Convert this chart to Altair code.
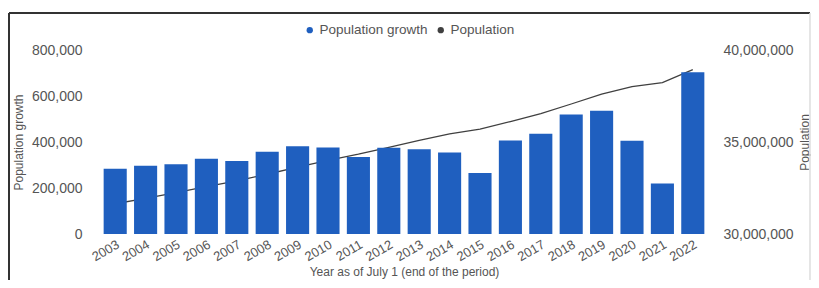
import altair as alt
import pandas as pd

years = [str(y) for y in range(2003, 2023)]
growth = [284000, 296600, 303100, 327400, 317900, 358100, 381800, 376000, 334400, 374900,
          368700, 354500, 265500, 406600, 435700, 519800, 536100, 405900, 219300, 703400]
population = [31644000, 31940700, 32243800, 32571200, 32889000, 33247100, 33628900, 34004900,
              34339300, 34714200, 35083000, 35437400, 35702900, 36109500, 36545200, 37065100,
              37601200, 38007200, 38226500, 38929900]
series = ["Population growth", "Population"]
colors = ["#1f5fbf", "#404040"]

df = pd.DataFrame({"year": years, "growth": growth, "population": population})
leg = pd.DataFrame({"series": series})

FONT = "Liberation Sans"

x = alt.X("year:N", title="Year as of July 1 (end of the period)",
          scale=alt.Scale(paddingInner=0.24, paddingOuter=0.12),
          axis=alt.Axis(labelAngle=330, labelPadding=4, labelFontSize=13, labelColor="#555",
                        domain=False, ticks=False, titleFontSize=12, titleColor="#555",
                        titleFontWeight="normal", titleY=37, titleBaseline="middle"))

line = alt.Chart(df).mark_line(color="#404040", strokeWidth=1.3).encode(
    x=x,
    y=alt.Y("population:Q", title="Population",
            scale=alt.Scale(domain=[30000000, 40000000], nice=False, zero=False),
            axis=alt.Axis(orient="right", values=[30000000, 35000000, 40000000], format=",d",
                          labelFontSize=14, labelColor="#555", labelPadding=15,
                          domain=False, ticks=False, grid=False,
                          titleFontSize=12, titleColor="#555", titleFontWeight="normal",
                          titleAngle=270, titleX=96, titleY=92, titleAlign="center",
                          titleBaseline="middle")),
)

bars = alt.Chart(df).mark_bar(color="#1f5fbf").encode(
    x=x,
    y=alt.Y("growth:Q", title="Population growth",
            scale=alt.Scale(domain=[0, 800000], nice=False),
            axis=alt.Axis(orient="left", values=[0, 200000, 400000, 600000, 800000], format=",d",
                          labelFontSize=14, labelColor="#555", labelPadding=18,
                          domain=False, ticks=False, grid=False,
                          titleFontSize=12, titleColor="#555", titleFontWeight="normal",
                          titleAngle=270, titleX=-82, titleY=92, titleAlign="center",
                          titleBaseline="middle")),
)

legend_layer = alt.Chart(leg).mark_point(filled=True, opacity=0).encode(
    x=alt.value(0), y=alt.value(0),
    color=alt.Color("series:N", scale=alt.Scale(domain=series, range=colors), sort=series,
                    legend=alt.Legend(title=None, orient="none", direction="horizontal",
                                      legendX=203, legendY=-27, symbolType="circle",
                                      symbolSize=40, symbolOpacity=1, labelFontSize=13.5,
                                      labelColor="#555", columnPadding=6, labelOffset=3)),
)

frame_top = alt.Chart(leg).mark_rule(color="#333", strokeWidth=2).encode(
    x=alt.value(-91), x2=alt.value(710), y=alt.value(-37))
frame_left = alt.Chart(leg).mark_rule(color="#333", strokeWidth=2).encode(
    x=alt.value(-91), y=alt.value(-37), y2=alt.value(232))
frame_right = alt.Chart(leg).mark_rule(color="#ddd", strokeWidth=1).encode(
    x=alt.value(710), y=alt.value(-37), y2=alt.value(232))

chart = alt.layer(line, bars, legend_layer, frame_top, frame_left, frame_right).resolve_scale(
    y="independent"
).properties(
    width=608, height=184,
    autosize=alt.AutoSizeParams(type="none"),
    padding={"left": 92, "top": 42, "right": 103, "bottom": 46},
).configure(font=FONT).configure_view(stroke=None)

chart.save("out.html", embed_options={"renderer": "svg", "actions": False})
